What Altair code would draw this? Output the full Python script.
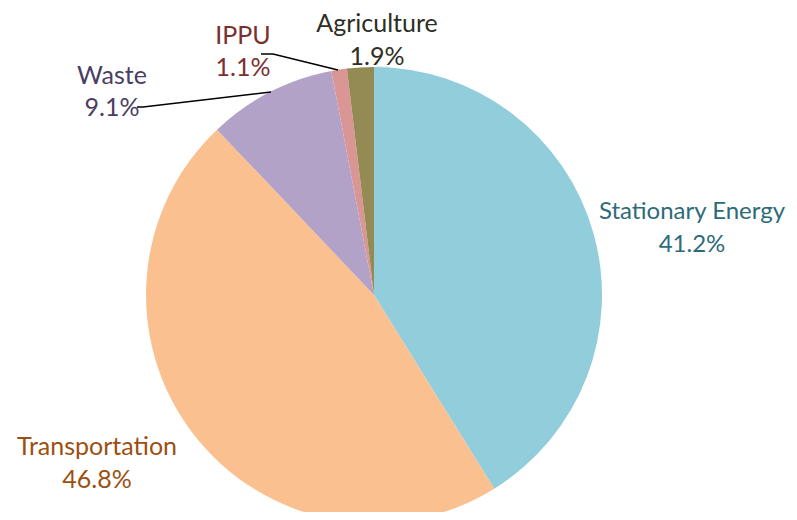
import altair as alt
import pandas as pd

# ---- data ----
categories = ["Stationary Energy", "Transportation", "Waste", "IPPU", "Agriculture"]
shares = [41.2, 46.8, 9.1, 1.1, 1.9]
slice_colors = ["#92CDDC", "#FAC090", "#B3A2C7", "#D99694", "#948A54"]
label_colors = ["#2E6B7A", "#9C4F12", "#4A3E63", "#7B3030", "#2E2E24"]
pct_labels = [f"{v:.1f}%" for v in shares]

# ---- layout (chart pixel coords) ----
OFF = 8
CX, CY, R = 374 - OFF, 295 - OFF, 228
# label anchor (center x, baseline of name line, baseline of pct line, font size)
label_pos = {
    "Stationary Energy": (692, 219, 252, 24),
    "Transportation": (97, 455, 488, 25),
    "Waste": (112, 84, 116, 25),
    "IPPU": (243, 44, 76, 25),
    "Agriculture": (377, 32, 65, 25),
}

pie_df = pd.DataFrame({
    "category": categories,
    "share": shares,
    "order": list(range(len(categories))),
})

rows = []
for cat, pct, col in zip(categories, pct_labels, label_colors):
    x, y1, y2, fs = label_pos[cat]
    rows.append({"x": x - OFF, "y": y1 - OFF, "text": cat, "color": col, "fs": fs})
    rows.append({"x": x - OFF, "y": y2 - OFF, "text": pct, "color": col, "fs": fs})
text_df = pd.DataFrame(rows)

lines = [
    ("Waste", [(137, 107), (143, 107), (271, 92)]),
    ("IPPU", [(261, 54), (273, 54), (338, 70)]),
]
lrows = []
for name, pts in lines:
    for i, (px, py) in enumerate(pts):
        lrows.append({"seg": name, "i": i, "x": px - OFF, "y": py - OFF})
line_df = pd.DataFrame(lrows)

shadow = alt.Chart(pd.DataFrame({"v": [1]})).mark_arc(
    color="#000000", opacity=0.07, outerRadius=R + 3
).encode(theta=alt.Theta("v:Q"), x=alt.value(CX + 2), y=alt.value(CY + 2))

shadow2 = alt.Chart(pd.DataFrame({"v": [1]})).mark_arc(
    color="#000000", opacity=0.06, outerRadius=R + 1
).encode(theta=alt.Theta("v:Q"), x=alt.value(CX + 1), y=alt.value(CY + 1))

pie = alt.Chart(pie_df).mark_arc(outerRadius=R, strokeWidth=0).encode(
    theta=alt.Theta("share:Q", stack=True),
    order=alt.Order("order:Q"),
    color=alt.Color("category:N", scale=alt.Scale(domain=categories, range=slice_colors), legend=None),
    x=alt.value(CX),
    y=alt.value(CY),
)

leaders = alt.Chart(line_df).mark_line(color="#000000", strokeWidth=1.3).encode(
    x=alt.X("x:Q", scale=None),
    y=alt.Y("y:Q", scale=None),
    detail="seg:N",
    order="i:Q",
)

labels = alt.Chart(text_df).mark_text(
    font="Lato", align="center", baseline="alphabetic"
).encode(
    x=alt.X("x:Q", scale=None),
    y=alt.Y("y:Q", scale=None),
    text="text:N",
    size=alt.Size("fs:Q", scale=None),
    color=alt.Color("color:N", scale=None),
)

chart = alt.layer(shadow, shadow2, pie, leaders, labels).properties(
    width=781, height=504, padding=0, autosize=alt.AutoSizeParams(type="none")
).configure_view(stroke=None)

chart.save("out.html", embed_options={"renderer": "svg", "actions": False})
